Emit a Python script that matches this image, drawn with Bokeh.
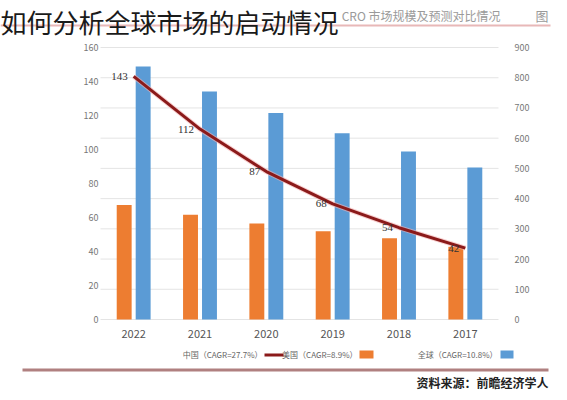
from bokeh.plotting import figure
from bokeh.models import (ColumnDataSource, Range1d, LinearAxis, Label, LabelSet, FixedTicker,
                          BoxAnnotation)
from bokeh.embed import file_html
from bokeh.resources import INLINE

years = ["2022", "2021", "2020", "2019", "2018", "2017"]
global_vals = [837, 754, 683, 616, 556, 503]
us_vals = [379, 347, 318, 292, 269, 241]
china_vals = [143, 112, 87, 68, 54, 42]
left_ticks = [0, 20, 40, 60, 80, 100, 120, 140, 160]
right_ticks = [0, 100, 200, 300, 400, 500, 600, 700, 800, 900]

FONT = "Noto Sans CJK SC"
W, H = 567, 400
FX0, FX1, FY0, FY1 = 100, 498, 47, 319   # plot area in page pixels
n = len(years)
cw = (FX1 - FX0) / n

xs = [i + 0.5 for i in range(n)]
src = ColumnDataSource(dict(x=xs, xo=[v - 0.143 for v in xs], xb=[v + 0.143 for v in xs],
                            g=global_vals, us=us_vals, cn=china_vals,
                            cn_label=[str(v) for v in china_vals]))

lmax, rmax = left_ticks[-1], right_ticks[-1]
sy = (FY1 - FY0) / lmax
p = figure(width=W, height=H, output_backend="svg", toolbar_location=None,
           x_range=Range1d(-FX0 / cw, (W - FX0) / cw),
           y_range=Range1d((FY1 - H) / sy, FY1 / sy),
           min_border=0, outline_line_color=None,
           background_fill_color="white", border_fill_color="white",
           x_axis_type=None, y_axis_type=None)
p.margin = (0, 0, 0, 0)
p.extra_y_ranges = {"r": Range1d((FY1 - H) / sy * rmax / lmax, FY1 / sy * rmax / lmax)}
p.xgrid.grid_line_color = None
p.ygrid.grid_line_color = None

def style_axis(ax, size, color, standoff):
    ax.axis_line_color = None
    ax.major_tick_line_color = None
    ax.minor_tick_line_color = None
    ax.major_label_text_font = FONT
    ax.major_label_text_font_size = size
    ax.major_label_text_color = color
    ax.major_label_standoff = standoff

la = LinearAxis(ticker=FixedTicker(ticks=left_ticks), fixed_location=0)
style_axis(la, "9px", "#777777", -4)
p.add_layout(la, "left")

ra = LinearAxis(y_range_name="r", ticker=FixedTicker(ticks=right_ticks), fixed_location=n)
style_axis(ra, "9px", "#777777", 10)
p.add_layout(ra, "right")

ba = LinearAxis(ticker=FixedTicker(ticks=xs), fixed_location=0,
                major_label_overrides={x: y for x, y in zip(xs, years)})
style_axis(ba, "11px", "#555555", 4)
p.add_layout(ba, "below")

# gridlines (right axis ticks) across the plot area
p.segment(x0=[0] * len(right_ticks), x1=[n] * len(right_ticks), y0=right_ticks, y1=right_ticks,
          y_range_name="r", line_color="#e4e4e4", line_width=1)

# bars
p.vbar(x="xo", top="us", width=0.225, source=src, y_range_name="r",
       color="#ED7D31", line_color=None)
p.vbar(x="xb", top="g", width=0.225, source=src, y_range_name="r",
       color="#5B9BD5", line_color=None)

# line
p.line(x="x", y="cn", source=src, line_color="#f4b0b0", line_width=5, line_alpha=0.6)
p.line(x="x", y="cn", source=src, line_color="#8B1A1A", line_width=3)
p.add_layout(LabelSet(x="x", y="cn", text="cn_label", source=src, text_align="right",
                      text_baseline="middle", x_offset=-6, text_font_size="11px",
                      text_font=FONT, text_color="#333333"))

def lab(x, y, text, size, color, align="left", style="normal", baseline="middle"):
    p.add_layout(Label(x=x, y=H - y, x_units="screen", y_units="screen", text=text,
                       text_font=FONT, text_font_size=size, text_color=color,
                       text_align=align, text_baseline=baseline, text_font_style=style))

def box(x0, x1, y0, y1, color):
    p.add_layout(BoxAnnotation(left=x0, right=x1, top=H - y0, bottom=H - y1,
                               left_units="screen", right_units="screen",
                               top_units="screen", bottom_units="screen",
                               fill_color=color, fill_alpha=1, line_color=None))

# header
lab(548, 15, "图", "13px", "#9a9a9a", align="right")
lab(500, 15, "CRO 市场规模及预测对比情况", "12px", "#9a9a9a", align="right")
box(0, 550, 24, 26, "#e8b8b8")
lab(0, 21, "如何分析全球市场的启动情况", "26px", "#1a1a1a")

# legend (glyph to the right of its text)
ly = 354
box(500, 513, 350, 358, "#5B9BD5")
lab(497, ly, "全球（CAGR=10.8%）", "8px", "#666666", align="right")
box(359, 373, 350, 358, "#ED7D31")
lab(357, ly, "美国（CAGR=8.9%）", "8px", "#666666", align="right")
box(264, 283, 353, 356, "#8B1A1A")
lab(262, ly, "中国（CAGR=27.7%）", "8px", "#666666", align="right")

# footer
box(22, 548, 368, 371, "#b08080")
lab(548, 382, "资料来源：前瞻经济学人", "12px", "#222222", align="right", style="bold")

open("out.html", "w").write(file_html(p, INLINE))
